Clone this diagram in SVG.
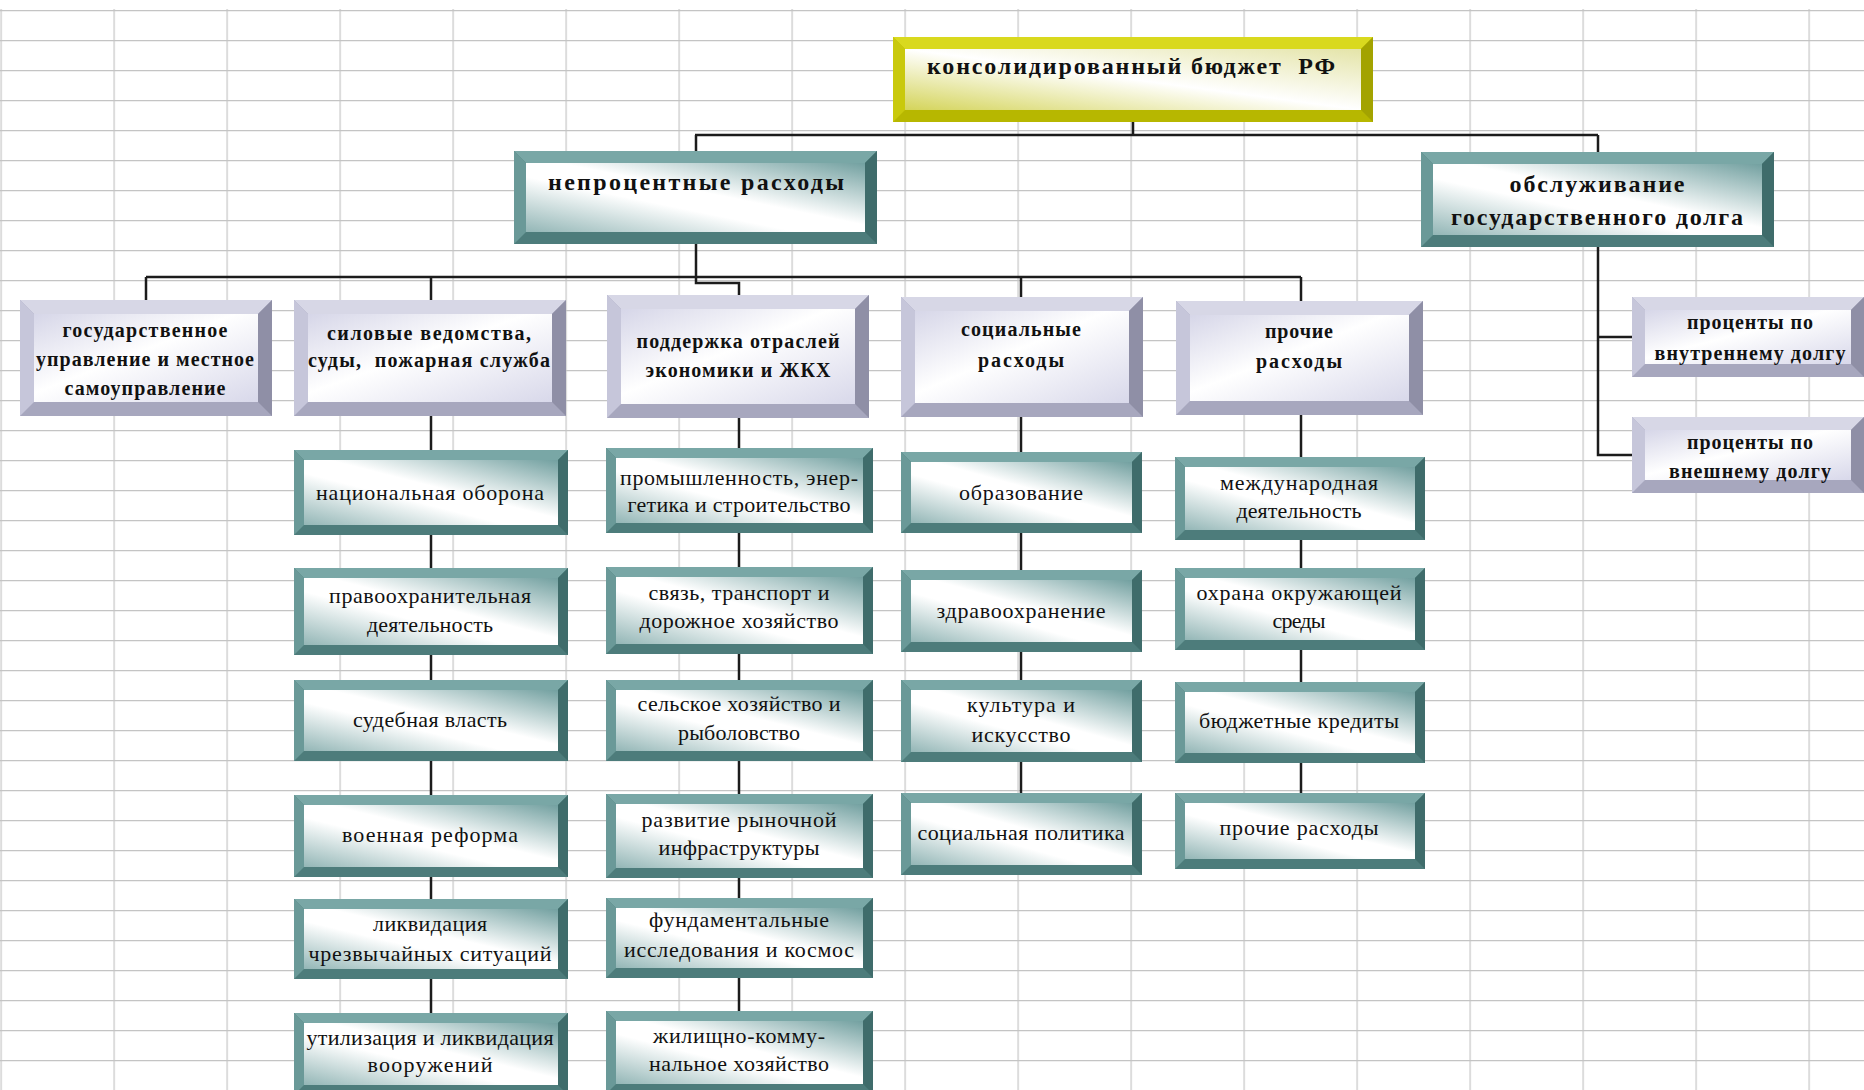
<svg xmlns="http://www.w3.org/2000/svg" width="1864" height="1090" viewBox="0 0 1864 1090">
<defs>
<pattern id="grid" patternUnits="userSpaceOnUse" x="0.5" y="10" width="113" height="30">
<path d="M0 0.5H113M0.5 0V30" stroke="#c4c4c4" stroke-width="1.4" fill="none"/>
</pattern>
<linearGradient id="gT" x1="1" y1="0" x2="0" y2="1">
<stop offset="0" stop-color="#72a0a0"/>
<stop offset="0.45" stop-color="#ffffff"/>
<stop offset="0.6" stop-color="#ffffff"/>
<stop offset="1" stop-color="#93b6b6"/>
</linearGradient>
<linearGradient id="gL" x1="0" y1="0" x2="1" y2="1">
<stop offset="0" stop-color="#d6d6e8"/>
<stop offset="0.45" stop-color="#ffffff"/>
<stop offset="1" stop-color="#d8d8ea"/>
</linearGradient>
<linearGradient id="gY" x1="1" y1="0" x2="0" y2="1">
<stop offset="0" stop-color="#e4e4a8"/>
<stop offset="0.5" stop-color="#ffffff"/>
<stop offset="1" stop-color="#d4d45a"/>
</linearGradient>
<style>
.tb{fill:#4d7c7b}.tt{fill:#79a7a6}.tl{fill:#6a9998}.tr{fill:#3f6c6b}.tf{fill:url(#gT)}
.lb{fill:#a7a7be}.lt{fill:#d7d7e6}.ll{fill:#c6c6da}.lr{fill:#8f8fa6}.lf{fill:url(#gL)}
.yb{fill:#b7b700}.yt{fill:#d9d91e}.yl{fill:#c9c90c}.yr{fill:#a3a300}.yf{fill:url(#gY)}
text{fill:#111;text-anchor:middle}
.t1{font:bold 24px "Liberation Serif",serif}
.t2{font:bold 20px "Liberation Serif",serif}
.t3{font:22px "Liberation Serif",serif}
</style>
</defs>
<rect width="1864" height="1090" fill="#ffffff"/>
<rect width="1864" height="1090" fill="url(#grid)"/>
<rect width="1864" height="9" fill="#ffffff"/>

<g id="connectors" stroke="#1c1c1c" stroke-width="2.5" fill="none">
<path d="M1133 122V135M695 135H1598M696 135V151M1598 135V152"/>
<path d="M696 244V283H739V295"/>
<path d="M146 277H1301M146 277V300M431 277V300M1021 277V297M1301 277V301"/>
<path d="M431 416V1013M739 418V1011M1021 417V793M1301 415V793"/>
<path d="M1598 247V455H1632M1598 337H1632"/>
</g>

<g id="n-budget">
<rect class="yb" x="893" y="37" width="480" height="85"/>
<path class="yt" d="M893 37H1373L1361 49H905Z"/>
<path class="yl" d="M893 37L905 49V110L893 122Z"/>
<path class="yr" d="M1373 37V122L1361 110V49Z"/>
<rect class="yf" x="905" y="49" width="456" height="61"/>
<text class="t1" x="1131" y="74" textLength="408" xml:space="preserve">консолидированный бюджет  РФ</text>
</g>

<g id="n-noninterest">
<rect class="tb" x="514" y="151" width="363" height="93"/>
<path class="tt" d="M514 151H877L865 163H526Z"/>
<path class="tl" d="M514 151L526 163V232L514 244Z"/>
<path class="tr" d="M877 151V244L865 232V163Z"/>
<rect class="tf" x="526" y="163" width="339" height="69"/>
<text class="t1" x="696" y="190" textLength="296">непроцентные расходы</text>
</g>

<g id="n-debt">
<rect class="tb" x="1421" y="152" width="353" height="95"/>
<path class="tt" d="M1421 152H1774L1762 164H1433Z"/>
<path class="tl" d="M1421 152L1433 164V235L1421 247Z"/>
<path class="tr" d="M1774 152V247L1762 235V164Z"/>
<rect class="tf" x="1433" y="164" width="329" height="71"/>
<text class="t1" x="1597" y="192" textLength="175">обслуживание</text>
<text class="t1" x="1597" y="225" textLength="292">государственного долга</text>
</g>

<g id="n-gov">
<rect class="lb" x="20" y="300" width="252" height="116"/>
<path class="lt" d="M20 300H272L258 314H34Z"/>
<path class="ll" d="M20 300L34 314V402L20 416Z"/>
<path class="lr" d="M272 300V416L258 402V314Z"/>
<rect class="lf" x="34" y="314" width="224" height="88"/>
<text class="t2" x="145" y="337" textLength="165">государственное</text>
<text class="t2" x="145" y="366" textLength="218">управление и местное</text>
<text class="t2" x="145" y="395" textLength="161">самоуправление</text>
</g>

<g id="n-power">
<rect class="lb" x="294" y="300" width="272" height="116"/>
<path class="lt" d="M294 300H566L552 314H308Z"/>
<path class="ll" d="M294 300L308 314V402L294 416Z"/>
<path class="lr" d="M566 300V416L552 402V314Z"/>
<rect class="lf" x="308" y="314" width="244" height="88"/>
<text class="t2" x="429" y="340" textLength="204">силовые ведомства,</text>
<text class="t2" x="429" y="367" textLength="242" xml:space="preserve">суды,  пожарная служба</text>
</g>

<g id="n-economy">
<rect class="lb" x="607" y="295" width="262" height="123"/>
<path class="lt" d="M607 295H869L855 309H621Z"/>
<path class="ll" d="M607 295L621 309V404L607 418Z"/>
<path class="lr" d="M869 295V418L855 404V309Z"/>
<rect class="lf" x="621" y="309" width="234" height="95"/>
<text class="t2" x="738" y="348" textLength="203">поддержка отраслей</text>
<text class="t2" x="738" y="377" textLength="185">экономики и ЖКХ</text>
</g>

<g id="n-social">
<rect class="lb" x="901" y="297" width="242" height="120"/>
<path class="lt" d="M901 297H1143L1129 311H915Z"/>
<path class="ll" d="M901 297L915 311V403L901 417Z"/>
<path class="lr" d="M1143 297V417L1129 403V311Z"/>
<rect class="lf" x="915" y="311" width="214" height="92"/>
<text class="t2" x="1021" y="336" textLength="120">социальные</text>
<text class="t2" x="1021" y="367" textLength="86">расходы</text>
</g>

<g id="n-other">
<rect class="lb" x="1176" y="301" width="247" height="114"/>
<path class="lt" d="M1176 301H1423L1409 315H1190Z"/>
<path class="ll" d="M1176 301L1190 315V401L1176 415Z"/>
<path class="lr" d="M1423 301V415L1409 401V315Z"/>
<rect class="lf" x="1190" y="315" width="219" height="86"/>
<text class="t2" x="1299" y="338" textLength="68">прочие</text>
<text class="t2" x="1299" y="368" textLength="86">расходы</text>
</g>

<g id="n-internal">
<rect class="lb" x="1632" y="297" width="232" height="80"/>
<path class="lt" d="M1632 297H1864L1851 310H1645Z"/>
<path class="ll" d="M1632 297L1645 310V364L1632 377Z"/>
<path class="lr" d="M1864 297V377L1851 364V310Z"/>
<rect class="lf" x="1645" y="310" width="206" height="54"/>
<text class="t2" x="1750" y="329" textLength="126">проценты по</text>
<text class="t2" x="1750" y="360" textLength="191">внутреннему долгу</text>
</g>

<g id="n-external">
<rect class="lb" x="1632" y="417" width="232" height="76"/>
<path class="lt" d="M1632 417H1864L1851 430H1645Z"/>
<path class="ll" d="M1632 417L1645 430V480L1632 493Z"/>
<path class="lr" d="M1864 417V493L1851 480V430Z"/>
<rect class="lf" x="1645" y="430" width="206" height="50"/>
<text class="t2" x="1750" y="449" textLength="126">проценты по</text>
<text class="t2" x="1750" y="478" textLength="162">внешнему долгу</text>
</g>

<g id="n-defense">
<rect class="tb" x="294" y="450" width="274" height="85"/>
<path class="tt" d="M294 450H568L558 460H304Z"/>
<path class="tl" d="M294 450L304 460V525L294 535Z"/>
<path class="tr" d="M568 450V535L558 525V460Z"/>
<rect class="tf" x="304" y="460" width="254" height="65"/>
<text class="t3" x="430" y="500" textLength="228">национальная оборона</text>
</g>

<g id="n-law">
<rect class="tb" x="294" y="568" width="274" height="87"/>
<path class="tt" d="M294 568H568L558 578H304Z"/>
<path class="tl" d="M294 568L304 578V645L294 655Z"/>
<path class="tr" d="M568 568V655L558 645V578Z"/>
<rect class="tf" x="304" y="578" width="254" height="67"/>
<text class="t3" x="430" y="603" textLength="202">правоохранительная</text>
<text class="t3" x="430" y="632" textLength="126">деятельность</text>
</g>

<g id="n-court">
<rect class="tb" x="294" y="680" width="274" height="81"/>
<path class="tt" d="M294 680H568L558 690H304Z"/>
<path class="tl" d="M294 680L304 690V751L294 761Z"/>
<path class="tr" d="M568 680V761L558 751V690Z"/>
<rect class="tf" x="304" y="690" width="254" height="61"/>
<text class="t3" x="430" y="727" textLength="154">судебная власть</text>
</g>

<g id="n-reform">
<rect class="tb" x="294" y="795" width="274" height="82"/>
<path class="tt" d="M294 795H568L558 805H304Z"/>
<path class="tl" d="M294 795L304 805V867L294 877Z"/>
<path class="tr" d="M568 795V877L558 867V805Z"/>
<rect class="tf" x="304" y="805" width="254" height="62"/>
<text class="t3" x="430" y="842" textLength="176">военная реформа</text>
</g>

<g id="n-emergency">
<rect class="tb" x="294" y="899" width="274" height="80"/>
<path class="tt" d="M294 899H568L558 909H304Z"/>
<path class="tl" d="M294 899L304 909V969L294 979Z"/>
<path class="tr" d="M568 899V979L558 969V909Z"/>
<rect class="tf" x="304" y="909" width="254" height="60"/>
<text class="t3" x="430" y="931" textLength="114">ликвидация</text>
<text class="t3" x="430" y="961" textLength="243">чрезвычайных ситуаций</text>
</g>

<g id="n-weapons">
<rect class="tb" x="294" y="1013" width="274" height="82"/>
<path class="tt" d="M294 1013H568L558 1023H304Z"/>
<path class="tl" d="M294 1013L304 1023V1085L294 1095Z"/>
<path class="tr" d="M568 1013V1095L558 1085V1023Z"/>
<rect class="tf" x="304" y="1023" width="254" height="62"/>
<text class="t3" x="430" y="1045" textLength="247">утилизация и ликвидация</text>
<text class="t3" x="430" y="1072" textLength="125">вооружений</text>
</g>

<g id="n-industry">
<rect class="tb" x="606" y="448" width="267" height="85"/>
<path class="tt" d="M606 448H873L863 458H616Z"/>
<path class="tl" d="M606 448L616 458V523L606 533Z"/>
<path class="tr" d="M873 448V533L863 523V458Z"/>
<rect class="tf" x="616" y="458" width="247" height="65"/>
<text class="t3" x="739" y="485" textLength="238">промышленность, энер-</text>
<text class="t3" x="739" y="512" textLength="223">гетика и строительство</text>
</g>

<g id="n-transport">
<rect class="tb" x="606" y="567" width="267" height="87"/>
<path class="tt" d="M606 567H873L863 577H616Z"/>
<path class="tl" d="M606 567L616 577V644L606 654Z"/>
<path class="tr" d="M873 567V654L863 644V577Z"/>
<rect class="tf" x="616" y="577" width="247" height="67"/>
<text class="t3" x="739" y="600" textLength="181">связь, транспорт и</text>
<text class="t3" x="739" y="628" textLength="199">дорожное хозяйство</text>
</g>

<g id="n-agriculture">
<rect class="tb" x="606" y="680" width="267" height="81"/>
<path class="tt" d="M606 680H873L863 690H616Z"/>
<path class="tl" d="M606 680L616 690V751L606 761Z"/>
<path class="tr" d="M873 680V761L863 751V690Z"/>
<rect class="tf" x="616" y="690" width="247" height="61"/>
<text class="t3" x="739" y="711" textLength="203">сельское хозяйство и</text>
<text class="t3" x="739" y="740" textLength="122">рыболовство</text>
</g>

<g id="n-market">
<rect class="tb" x="606" y="794" width="267" height="84"/>
<path class="tt" d="M606 794H873L863 804H616Z"/>
<path class="tl" d="M606 794L616 804V868L606 878Z"/>
<path class="tr" d="M873 794V878L863 868V804Z"/>
<rect class="tf" x="616" y="804" width="247" height="64"/>
<text class="t3" x="739" y="827" textLength="195">развитие рыночной</text>
<text class="t3" x="739" y="855" textLength="161">инфраструктуры</text>
</g>

<g id="n-research">
<rect class="tb" x="606" y="898" width="267" height="80"/>
<path class="tt" d="M606 898H873L863 908H616Z"/>
<path class="tl" d="M606 898L616 908V968L606 978Z"/>
<path class="tr" d="M873 898V978L863 968V908Z"/>
<rect class="tf" x="616" y="908" width="247" height="60"/>
<text class="t3" x="739" y="927" textLength="180">фундаментальные</text>
<text class="t3" x="739" y="957" textLength="230">исследования и космос</text>
</g>

<g id="n-housing">
<rect class="tb" x="606" y="1011" width="267" height="83"/>
<path class="tt" d="M606 1011H873L863 1021H616Z"/>
<path class="tl" d="M606 1011L616 1021V1084L606 1094Z"/>
<path class="tr" d="M873 1011V1094L863 1084V1021Z"/>
<rect class="tf" x="616" y="1021" width="247" height="63"/>
<text class="t3" x="739" y="1043" textLength="172">жилищно-комму-</text>
<text class="t3" x="739" y="1071" textLength="180">нальное хозяйство</text>
</g>

<g id="n-education">
<rect class="tb" x="901" y="452" width="241" height="81"/>
<path class="tt" d="M901 452H1142L1132 462H911Z"/>
<path class="tl" d="M901 452L911 462V523L901 533Z"/>
<path class="tr" d="M1142 452V533L1132 523V462Z"/>
<rect class="tf" x="911" y="462" width="221" height="61"/>
<text class="t3" x="1021" y="500" textLength="124">образование</text>
</g>

<g id="n-health">
<rect class="tb" x="901" y="570" width="241" height="82"/>
<path class="tt" d="M901 570H1142L1132 580H911Z"/>
<path class="tl" d="M901 570L911 580V642L901 652Z"/>
<path class="tr" d="M1142 570V652L1132 642V580Z"/>
<rect class="tf" x="911" y="580" width="221" height="62"/>
<text class="t3" x="1021" y="618" textLength="169">здравоохранение</text>
</g>

<g id="n-culture">
<rect class="tb" x="901" y="680" width="241" height="82"/>
<path class="tt" d="M901 680H1142L1132 690H911Z"/>
<path class="tl" d="M901 680L911 690V752L901 762Z"/>
<path class="tr" d="M1142 680V762L1132 752V690Z"/>
<rect class="tf" x="911" y="690" width="221" height="62"/>
<text class="t3" x="1021" y="712" textLength="108">культура и</text>
<text class="t3" x="1021" y="742" textLength="99">искусство</text>
</g>

<g id="n-socpolicy">
<rect class="tb" x="901" y="793" width="241" height="82"/>
<path class="tt" d="M901 793H1142L1132 803H911Z"/>
<path class="tl" d="M901 793L911 803V865L901 875Z"/>
<path class="tr" d="M1142 793V875L1132 865V803Z"/>
<rect class="tf" x="911" y="803" width="221" height="62"/>
<text class="t3" x="1021" y="840" textLength="207">социальная политика</text>
</g>

<g id="n-international">
<rect class="tb" x="1175" y="457" width="250" height="83"/>
<path class="tt" d="M1175 457H1425L1415 467H1185Z"/>
<path class="tl" d="M1175 457L1185 467V530L1175 540Z"/>
<path class="tr" d="M1425 457V540L1415 530V467Z"/>
<rect class="tf" x="1185" y="467" width="230" height="63"/>
<text class="t3" x="1299" y="490" textLength="158">международная</text>
<text class="t3" x="1299" y="518" textLength="125">деятельность</text>
</g>

<g id="n-environment">
<rect class="tb" x="1175" y="568" width="250" height="82"/>
<path class="tt" d="M1175 568H1425L1415 578H1185Z"/>
<path class="tl" d="M1175 568L1185 578V640L1175 650Z"/>
<path class="tr" d="M1425 568V650L1415 640V578Z"/>
<rect class="tf" x="1185" y="578" width="230" height="62"/>
<text class="t3" x="1299" y="600" textLength="205">охрана окружающей</text>
<text class="t3" x="1299" y="628" textLength="53">среды</text>
</g>

<g id="n-credits">
<rect class="tb" x="1175" y="682" width="250" height="81"/>
<path class="tt" d="M1175 682H1425L1415 692H1185Z"/>
<path class="tl" d="M1175 682L1185 692V753L1175 763Z"/>
<path class="tr" d="M1425 682V763L1415 753V692Z"/>
<rect class="tf" x="1185" y="692" width="230" height="61"/>
<text class="t3" x="1299" y="728" textLength="200">бюджетные кредиты</text>
</g>

<g id="n-misc">
<rect class="tb" x="1175" y="793" width="250" height="76"/>
<path class="tt" d="M1175 793H1425L1415 803H1185Z"/>
<path class="tl" d="M1175 793L1185 803V859L1175 869Z"/>
<path class="tr" d="M1425 793V869L1415 859V803Z"/>
<rect class="tf" x="1185" y="803" width="230" height="56"/>
<text class="t3" x="1299" y="835" textLength="159">прочие расходы</text>
</g>
</svg>
